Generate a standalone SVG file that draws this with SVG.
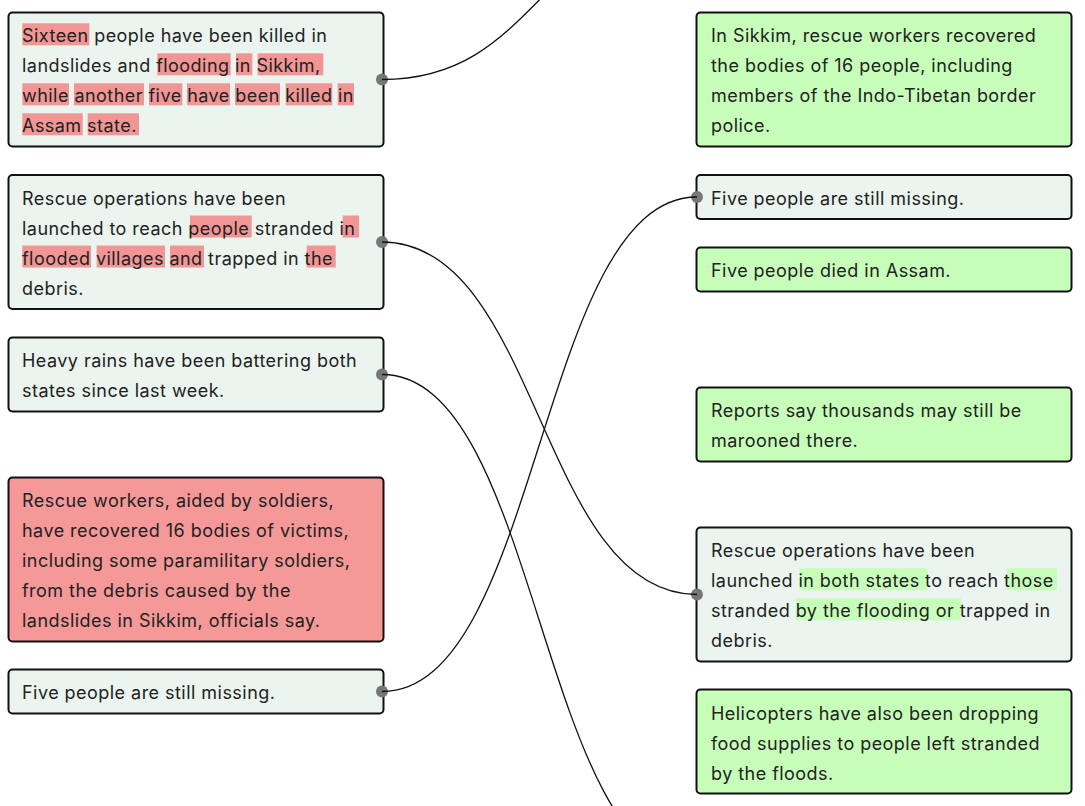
<svg xmlns="http://www.w3.org/2000/svg" width="1085" height="806" viewBox="0 0 1085 806">
<style>
.box{stroke:#111;stroke-width:2}
.plain{fill:#ebf4ee}
.red{fill:#f49898}
.green{fill:#c7feb9}
.hr{fill:#f29595}
.hg{fill:#c7feb9}
text{font-family:Inter,"Liberation Sans",sans-serif;font-size:18px;letter-spacing:0.46px;fill:#222}
.dot{fill:#777}
.link{fill:none;stroke:#111;stroke-width:1.3}
</style>
<rect width="1085" height="806" fill="#fff"/>
<g id="l1">
<rect class="box plain" x="8.5" y="12.5" width="375" height="134" rx="4"/>
<rect class="hr" x="22.3" y="23.3" width="67" height="22"/>
<rect class="hr" x="157.3" y="53.3" width="73.4" height="22"/>
<rect class="hr" x="236" y="53.3" width="16.3" height="22"/>
<rect class="hr" x="257.7" y="53.3" width="65.6" height="22"/>
<rect class="hr" x="22.3" y="83.3" width="46.7" height="22"/>
<rect class="hr" x="74" y="83.3" width="70" height="22"/>
<rect class="hr" x="149" y="83.3" width="33.3" height="22"/>
<rect class="hr" x="187" y="83.3" width="43" height="22"/>
<rect class="hr" x="235" y="83.3" width="45" height="22"/>
<rect class="hr" x="285.7" y="83.3" width="46.6" height="22"/>
<rect class="hr" x="337.7" y="83.3" width="16.3" height="22"/>
<rect class="hr" x="22.3" y="113.3" width="60.4" height="22"/>
<rect class="hr" x="87.7" y="113.3" width="51.3" height="22"/>
<text x="22" y="42">Sixteen people have been killed in</text>
<text x="22" y="72">landslides and flooding in Sikkim,</text>
<text x="22" y="102">while another five have been killed in</text>
<text x="22" y="132">Assam state.</text>
<circle class="dot" cx="382" cy="79.5" r="6"/>
</g>
<g id="l2">
<rect class="box plain" x="8.5" y="175" width="375" height="134" rx="4"/>
<rect class="hr" x="190" y="215.5" width="61.7" height="22"/>
<rect class="hr" x="342.7" y="215.5" width="16.3" height="22"/>
<rect class="hr" x="22.3" y="245.5" width="68.7" height="22"/>
<rect class="hr" x="96.7" y="245.5" width="68.3" height="22"/>
<rect class="hr" x="170" y="245.5" width="34" height="22"/>
<rect class="hr" x="306.7" y="245.5" width="29" height="22"/>
<text x="22" y="204.5">Rescue operations have been</text>
<text x="22" y="234.5">launched to reach people stranded in</text>
<text x="22" y="264.5">flooded villages and trapped in the</text>
<text x="22" y="294.5">debris.</text>
<circle class="dot" cx="382" cy="242" r="6"/>
</g>
<g id="l3">
<rect class="box plain" x="8.5" y="337.5" width="375" height="74" rx="4"/>
<text x="22" y="367">Heavy rains have been battering both</text>
<text x="22" y="397">states since last week.</text>
<circle class="dot" cx="382" cy="374.5" r="6"/>
</g>
<g id="l4">
<rect class="box red" x="8.5" y="477.5" width="375" height="164" rx="4"/>
<text x="22" y="507">Rescue workers, aided by soldiers,</text>
<text x="22" y="537">have recovered 16 bodies of victims,</text>
<text x="22" y="567">including some paramilitary soldiers,</text>
<text x="22" y="597">from the debris caused by the</text>
<text x="22" y="627">landslides in Sikkim, officials say.</text>
</g>
<g id="l5">
<rect class="box plain" x="8.5" y="669.5" width="375" height="44" rx="4"/>
<text x="22" y="699">Five people are still missing.</text>
<circle class="dot" cx="382" cy="691.5" r="6"/>
</g>
<g id="r1">
<rect class="box green" x="696.5" y="12.5" width="375" height="134" rx="4"/>
<text x="711" y="42">In Sikkim, rescue workers recovered</text>
<text x="711" y="72">the bodies of 16 people, including</text>
<text x="711" y="102">members of the Indo-Tibetan border</text>
<text x="711" y="132">police.</text>
</g>
<g id="r2">
<rect class="box plain" x="696.5" y="175" width="375" height="44" rx="4"/>
<text x="711" y="204.5">Five people are still missing.</text>
<circle class="dot" cx="697" cy="197" r="6"/>
</g>
<g id="r3">
<rect class="box green" x="696.5" y="247.5" width="375" height="44" rx="4"/>
<text x="711" y="277">Five people died in Assam.</text>
</g>
<g id="r4">
<rect class="box green" x="696.5" y="387.5" width="375" height="74" rx="4"/>
<text x="711" y="417">Reports say thousands may still be</text>
<text x="711" y="447">marooned there.</text>
</g>
<g id="r5">
<rect class="box plain" x="696.5" y="527.5" width="375" height="134" rx="4"/>
<rect class="hg" x="799.3" y="568.2" width="128" height="22"/>
<rect class="hg" x="1006.7" y="568.2" width="50.3" height="22"/>
<rect class="hg" x="796" y="598.2" width="165" height="22"/>
<text x="711" y="557">Rescue operations have been</text>
<text x="711" y="587">launched in both states to reach those</text>
<text x="711" y="617">stranded by the flooding or trapped in</text>
<text x="711" y="647">debris.</text>
<circle class="dot" cx="697" cy="594.5" r="6"/>
</g>
<g id="r6">
<rect class="box green" x="696.5" y="689.5" width="375" height="104" rx="4"/>
<text x="711" y="719.5">Helicopters have also been dropping</text>
<text x="711" y="749.5">food supplies to people left stranded</text>
<text x="711" y="779.5">by the floods.</text>
</g>
<g id="connectors">
<path class="link" d="M382,79.5 C539.5,79.5 539.5,-80 697,-80"/>
<path class="link" d="M382,242 C539.5,242 539.5,594.5 697,594.5"/>
<path class="link" d="M382,374.5 C539.5,374.5 539.5,868 697,868"/>
<path class="link" d="M382,691.5 C539.5,691.5 539.5,197 697,197"/>
</g>
</svg>
